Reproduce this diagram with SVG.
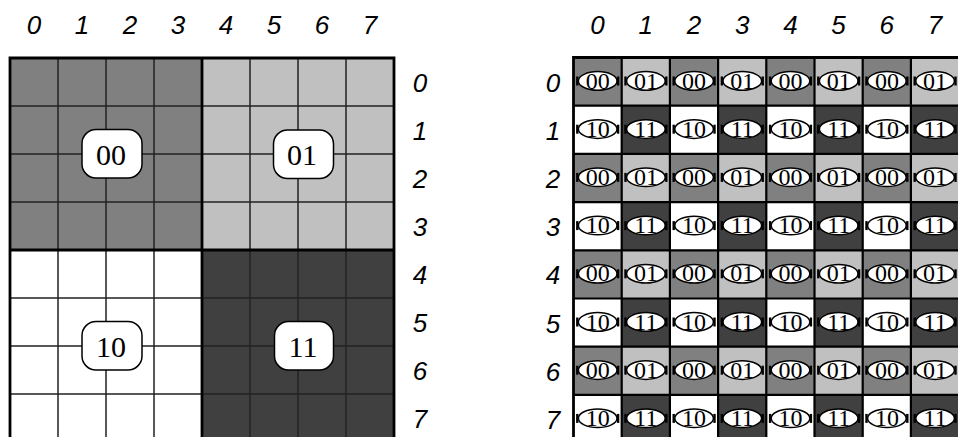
<svg xmlns="http://www.w3.org/2000/svg" width="958" height="437" viewBox="0 0 958 437">
<style>
.num{font-family:"Liberation Sans",Arial,sans-serif;font-style:italic;font-size:26px;fill:#000;text-anchor:middle}
.lbl{font-family:"Liberation Serif","Times New Roman",serif;font-size:30px;fill:#000;text-anchor:middle}
.sl{font-family:"Liberation Serif","Times New Roman",serif;font-size:24px;fill:#000;text-anchor:middle}
.thin{stroke:#222;stroke-width:1.5;fill:none}
.thick{stroke:#000;stroke-width:2.8;fill:none}
.rg{stroke:#000;stroke-width:2.2;fill:none}
.box{fill:#fff;stroke:#000;stroke-width:1.5}
.ell{fill:#fff;stroke:#000;stroke-width:1.5}
.tick{stroke:#000;stroke-width:2.4}
.q00{fill:#808080}.q01{fill:#c0c0c0}.q10{fill:#fff}.q11{fill:#404040}
</style>
<rect width="958" height="437" fill="#fff"/>
<g id="left-grid">
<rect class="q00" x="10" y="58" width="192" height="192"/>
<rect class="q01" x="202" y="58" width="192" height="192"/>
<rect class="q10" x="10" y="250" width="192" height="192"/>
<rect class="q11" x="202" y="250" width="192" height="192"/>
<path class="thin" d="M58 58V442M106 58V442M154 58V442M250 58V442M298 58V442M346 58V442M10 106H394M10 154H394M10 202H394M10 298H394M10 346H394M10 394H394"/>
<path class="thick" d="M10 442V58H394V442M202 58V442M10 250H394"/>
</g>
<g id="left-col-labels">
<text class="num" x="34" y="34">0</text><text class="num" x="82" y="34">1</text><text class="num" x="130" y="34">2</text><text class="num" x="178" y="34">3</text><text class="num" x="226" y="34">4</text><text class="num" x="274" y="34">5</text><text class="num" x="322" y="34">6</text><text class="num" x="370" y="34">7</text>
</g>
<g id="left-row-labels">
<text class="num" x="420" y="92">0</text><text class="num" x="420" y="140">1</text><text class="num" x="420" y="188">2</text><text class="num" x="420" y="236">3</text><text class="num" x="420" y="284">4</text><text class="num" x="420" y="332">5</text><text class="num" x="420" y="380">6</text><text class="num" x="420" y="428">7</text>
</g>
<g id="node-00"><rect class="box" x="82" y="129.5" width="60" height="48.5" rx="14"/><text class="lbl" x="111" y="164.5">00</text></g>
<g id="node-01"><rect class="box" x="273.5" y="130" width="60" height="48.5" rx="14"/><text class="lbl" x="302" y="164.5">01</text></g>
<g id="node-10"><rect class="box" x="82" y="321.5" width="60" height="48.5" rx="14"/><text class="lbl" x="111" y="356.5">10</text></g>
<g id="node-11"><rect class="box" x="274.5" y="321.5" width="59" height="48.5" rx="14"/><text class="lbl" x="303" y="356.5">11</text></g>
<defs>
<g id="c00"><rect class="q00" width="48.2" height="48.2"/><line class="tick" x1="3.8" y1="19" x2="3.8" y2="28"/><line class="tick" x1="44.6" y1="19" x2="44.6" y2="28"/><ellipse class="ell" cx="24.2" cy="23.4" rx="19.3" ry="9.3"/><text class="sl" x="24.2" y="31.2">00</text></g>
<g id="c01"><rect class="q01" width="48.2" height="48.2"/><line class="tick" x1="3.8" y1="19" x2="3.8" y2="28"/><line class="tick" x1="44.6" y1="19" x2="44.6" y2="28"/><ellipse class="ell" cx="24.2" cy="23.4" rx="19.3" ry="9.3"/><text class="sl" x="24.2" y="31.2">01</text></g>
<g id="c10"><rect class="q10" width="48.2" height="48.2"/><line class="tick" x1="3.8" y1="19" x2="3.8" y2="28"/><line class="tick" x1="44.6" y1="19" x2="44.6" y2="28"/><ellipse class="ell" cx="24.2" cy="23.4" rx="19.3" ry="9.3"/><text class="sl" x="24.2" y="31.2">10</text></g>
<g id="c11"><rect class="q11" width="48.2" height="48.2"/><line class="tick" x1="3.8" y1="19" x2="3.8" y2="28"/><line class="tick" x1="44.6" y1="19" x2="44.6" y2="28"/><ellipse class="ell" cx="24.2" cy="23.4" rx="19.3" ry="9.3"/><text class="sl" x="24.2" y="31.2">11</text></g>
</defs>
<g id="right-grid">
<g id="r0"><use href="#c00" x="573.5" y="57.5"/><use href="#c01" x="621.7" y="57.5"/><use href="#c00" x="669.9" y="57.5"/><use href="#c01" x="718.1" y="57.5"/><use href="#c00" x="766.3" y="57.5"/><use href="#c01" x="814.5" y="57.5"/><use href="#c00" x="862.7" y="57.5"/><use href="#c01" x="910.9" y="57.5"/></g>
<g id="r1"><use href="#c10" x="573.5" y="105.7"/><use href="#c11" x="621.7" y="105.7"/><use href="#c10" x="669.9" y="105.7"/><use href="#c11" x="718.1" y="105.7"/><use href="#c10" x="766.3" y="105.7"/><use href="#c11" x="814.5" y="105.7"/><use href="#c10" x="862.7" y="105.7"/><use href="#c11" x="910.9" y="105.7"/></g>
<g id="r2"><use href="#c00" x="573.5" y="153.9"/><use href="#c01" x="621.7" y="153.9"/><use href="#c00" x="669.9" y="153.9"/><use href="#c01" x="718.1" y="153.9"/><use href="#c00" x="766.3" y="153.9"/><use href="#c01" x="814.5" y="153.9"/><use href="#c00" x="862.7" y="153.9"/><use href="#c01" x="910.9" y="153.9"/></g>
<g id="r3"><use href="#c10" x="573.5" y="202.1"/><use href="#c11" x="621.7" y="202.1"/><use href="#c10" x="669.9" y="202.1"/><use href="#c11" x="718.1" y="202.1"/><use href="#c10" x="766.3" y="202.1"/><use href="#c11" x="814.5" y="202.1"/><use href="#c10" x="862.7" y="202.1"/><use href="#c11" x="910.9" y="202.1"/></g>
<g id="r4"><use href="#c00" x="573.5" y="250.3"/><use href="#c01" x="621.7" y="250.3"/><use href="#c00" x="669.9" y="250.3"/><use href="#c01" x="718.1" y="250.3"/><use href="#c00" x="766.3" y="250.3"/><use href="#c01" x="814.5" y="250.3"/><use href="#c00" x="862.7" y="250.3"/><use href="#c01" x="910.9" y="250.3"/></g>
<g id="r5"><use href="#c10" x="573.5" y="298.5"/><use href="#c11" x="621.7" y="298.5"/><use href="#c10" x="669.9" y="298.5"/><use href="#c11" x="718.1" y="298.5"/><use href="#c10" x="766.3" y="298.5"/><use href="#c11" x="814.5" y="298.5"/><use href="#c10" x="862.7" y="298.5"/><use href="#c11" x="910.9" y="298.5"/></g>
<g id="r6"><use href="#c00" x="573.5" y="346.7"/><use href="#c01" x="621.7" y="346.7"/><use href="#c00" x="669.9" y="346.7"/><use href="#c01" x="718.1" y="346.7"/><use href="#c00" x="766.3" y="346.7"/><use href="#c01" x="814.5" y="346.7"/><use href="#c00" x="862.7" y="346.7"/><use href="#c01" x="910.9" y="346.7"/></g>
<g id="r7"><use href="#c10" x="573.5" y="394.9"/><use href="#c11" x="621.7" y="394.9"/><use href="#c10" x="669.9" y="394.9"/><use href="#c11" x="718.1" y="394.9"/><use href="#c10" x="766.3" y="394.9"/><use href="#c11" x="814.5" y="394.9"/><use href="#c10" x="862.7" y="394.9"/><use href="#c11" x="910.9" y="394.9"/></g>
<path class="rg" d="M621.7 57.5V443M669.9 57.5V443M718.1 57.5V443M766.3 57.5V443M814.5 57.5V443M862.7 57.5V443M910.9 57.5V443M573.5 105.7H960M573.5 153.9H960M573.5 202.1H960M573.5 250.3H960M573.5 298.5H960M573.5 346.7H960M573.5 394.9H960"/>
<path class="thick" d="M573.5 443V57.5H960"/>
</g>
<g id="right-col-labels">
<text class="num" x="597.6" y="34">0</text><text class="num" x="645.8" y="34">1</text><text class="num" x="694" y="34">2</text><text class="num" x="742.2" y="34">3</text><text class="num" x="790.4" y="34">4</text><text class="num" x="838.6" y="34">5</text><text class="num" x="886.8" y="34">6</text><text class="num" x="935" y="34">7</text>
</g>
<g id="right-row-labels">
<text class="num" x="553" y="92">0</text><text class="num" x="553" y="140">1</text><text class="num" x="553" y="188">2</text><text class="num" x="553" y="236">3</text><text class="num" x="553" y="284">4</text><text class="num" x="553" y="333">5</text><text class="num" x="553" y="381">6</text><text class="num" x="553" y="429">7</text>
</g>
</svg>
